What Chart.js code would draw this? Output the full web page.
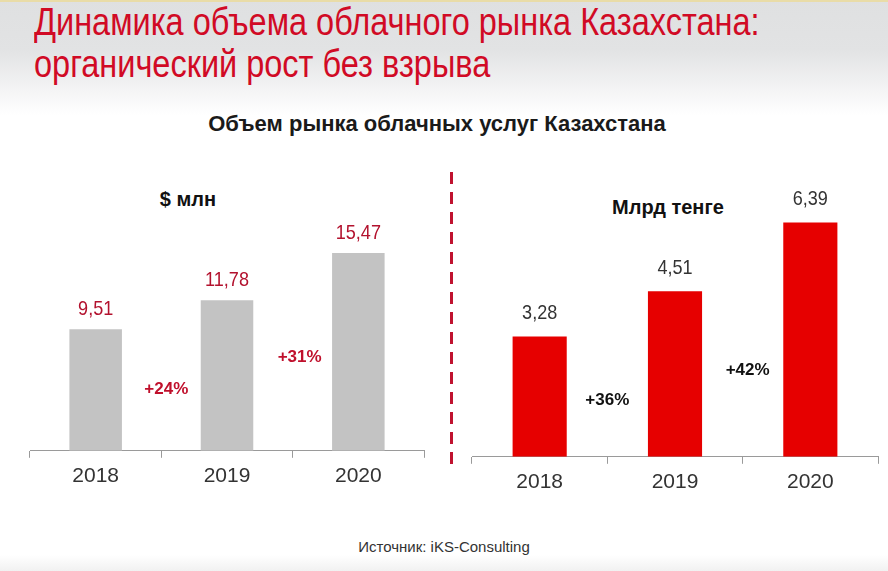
<!DOCTYPE html>
<html>
<head>
<meta charset="utf-8">
<script src="https://cdn.jsdelivr.net/npm/chart.js@4.4.1/dist/chart.umd.min.js"></script>
<style>
  html, body { margin: 0; padding: 0; }
  body {
    width: 888px; height: 571px; position: relative; overflow: hidden;
    background: linear-gradient(to bottom, #dfe0e1 0px, #e2e3e4 50px, #f4f4f5 90px, #ffffff 115px, #ffffff 555px, #f1f1f1 571px);
    font-family: "Liberation Sans", Arial, sans-serif;
  }
  .topline { position: absolute; left: 0; top: 0; width: 888px; height: 2px; background: #e9dca8; }
  .title {
    position: absolute; left: 34px; top: 1px; color: #d10a25; white-space: nowrap;
    font-size: 38px; line-height: 42px;
    transform: scaleX(0.855); transform-origin: 0 0;
  }
  .subtitle {
    position: absolute; left: 0; width: 874px; top: 111px; text-align: center;
    font-weight: bold; font-size: 22px; color: #1a1a1a;
  }
  .unit { position: absolute; font-weight: bold; font-size: 20px; color: #111; transform: translateX(-50%); white-space: nowrap; }
  .source { position: absolute; left: 0; width: 888px; top: 538px; text-align: center; font-size: 15px; color: #333; }
  .sep {
    position: absolute; left: 450px; top: 172px; width: 3px; height: 300px;
    background: repeating-linear-gradient(to bottom, #c0122f 0px, #c0122f 12px, transparent 12px, transparent 20px);
  }
  #wrapL { position: absolute; left: 0; top: 150px; width: 444px; height: 345px; }
  #wrapR { position: absolute; left: 452px; top: 150px; width: 436px; height: 351px; }
</style>
</head>
<body>
<div class="topline"></div>
<div class="title">Динамика объема облачного рынка Казахстана:<br>органический рост без взрыва</div>
<div class="subtitle">Объем рынка облачных услуг Казахстана</div>
<div class="unit" style="left:188px; top:188px;">$ млн</div>
<div class="unit" style="left:668px; top:196px;">Млрд тенге</div>
<div class="sep"></div>
<div id="wrapL"><canvas id="chartL"></canvas></div>
<div id="wrapR"><canvas id="chartR"></canvas></div>
<div class="source">Источник: iKS-Consulting</div>

<script>
"use strict";

const years = ["2018", "2019", "2020"];
const usdMln = [9.51, 11.78, 15.47];
const kztBln = [3.28, 4.51, 6.39];
const usdGrowth = ["+24%", "+31%"];
const kztGrowth = ["+36%", "+42%"];

const FONT = "'Liberation Sans', Arial, sans-serif";

// value labels over bars + growth labels between bars
const labelsPlugin = {
  id: "labels",
  afterDatasetsDraw(chart, args, opts) {
    const ctx = chart.ctx;
    const meta = chart.getDatasetMeta(0);
    const xs = chart.scales.x;
    const ys = chart.scales.y;
    ctx.save();
    ctx.textAlign = "center";
    ctx.textBaseline = "middle";
    ctx.font = "21px " + FONT;
    ctx.fillStyle = opts.valueColor;
    meta.data.forEach((bar, i) => {
      const v = chart.data.datasets[0].data[i];
      ctx.save();
      ctx.translate(bar.x, bar.y - opts.valueGap);
      ctx.scale(0.86, 1);  // narrow look
      ctx.fillText(v.toFixed(2).replace(".", ","), 0, 0);
      ctx.restore();
    });
    ctx.font = "bold 17px " + FONT;
    ctx.fillStyle = opts.growthColor;
    opts.growth.forEach((txt, i) => {
      const x = xs.getPixelForValue(i + 0.5) + opts.growthShift[i];
      const y = ys.getPixelForValue(opts.growthLevel[i]);
      ctx.fillText(txt, x, y);
    });
    ctx.restore();
  }
};

function makeChart(id, values, color, yMax, pad, labelOpts) {
  return new Chart(document.getElementById(id), {
    type: "bar",
    data: {
      labels: years,
      datasets: [{
        data: values,
        backgroundColor: color,
        barPercentage: 0.4,
        categoryPercentage: 1.0
      }]
    },
    options: {
      responsive: true,
      maintainAspectRatio: false,
      animation: false,
      layout: { padding: pad },
      plugins: {
        legend: { display: false },
        tooltip: { enabled: false },
        labels: labelOpts
      },
      scales: {
        x: {
          grid: { display: true, drawOnChartArea: false, offset: true, tickLength: 7, color: "#9a9a9a" },
          border: { color: "#9a9a9a", width: 1 },
          ticks: { color: "#333", font: { family: FONT, size: 21 }, padding: 6 }
        },
        y: { display: false, min: 0, max: yMax }
      }
    },
    plugins: [labelsPlugin]
  });
}

makeChart("chartL", usdMln, "#c3c3c3", 20, { left: 30, right: 20, top: 45, bottom: 0 }, {
  valueColor: "#b3122e",
  valueGap: 20,
  growthColor: "#c0102c",
  growth: usdGrowth,
  growthLevel: [4.8, 7.3],
  growthShift: [5, 7]
});

makeChart("chartR", kztBln, "#e60000", 7, { left: 20, right: 10, top: 50, bottom: 0 }, {
  valueColor: "#333",
  valueGap: 23,
  growthColor: "#111",
  growth: kztGrowth,
  growthLevel: [1.53, 2.36],
  growthShift: [0, 5]
});
</script>
</body>
</html>
